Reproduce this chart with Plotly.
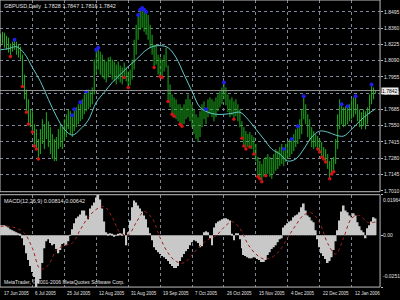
import plotly.graph_objects as go

TITLE = "GBPUSD,Daily  1.7828 1.7847 1.7816 1.7842"
MACD_TITLE = "MACD(12,26,9) 0.00814 0.00642"
COPYRIGHT = "MetaTrader, \u00a9 2001-2006 MetaQuotes Software Corp."

HIGH = [
    1.8314, 1.8330, 1.8322, 1.8297, 1.8281, 1.8231, 1.8248, 1.8264, 1.8248, 1.8223,
    1.8206, 1.8140, 1.7975, 1.7851, 1.7769, 1.7686, 1.7670, 1.7563, 1.7521, 1.7439,
    1.7521, 1.7604, 1.7563, 1.7662, 1.7587, 1.7538, 1.7480, 1.7439, 1.7456, 1.7521,
    1.7563, 1.7538, 1.7604, 1.7645, 1.7686, 1.7670, 1.7637, 1.7686, 1.7703, 1.7728,
    1.7744, 1.7769, 1.7810, 1.7835, 1.7851, 1.7835, 1.7868, 1.8099, 1.8181, 1.8198,
    1.8165, 1.8140, 1.8099, 1.8083, 1.8116, 1.8124, 1.8099, 1.8083, 1.8058, 1.8083,
    1.8050, 1.8033, 1.8074, 1.8033, 1.8000, 1.8016, 1.8099, 1.8264, 1.8388, 1.8470,
    1.8512, 1.8528, 1.8512, 1.8495, 1.8470, 1.8388, 1.8305, 1.8223, 1.8223, 1.8140,
    1.8116, 1.8099, 1.8140, 1.8198, 1.8050, 1.7893, 1.7810, 1.7785, 1.7769, 1.7728,
    1.7728, 1.7703, 1.7728, 1.7769, 1.7810, 1.7769, 1.7728, 1.7686, 1.7645, 1.7620,
    1.7670, 1.7728, 1.7752, 1.7686, 1.7769, 1.7785, 1.7769, 1.7752, 1.7785, 1.7810,
    1.7835, 1.7868, 1.7909, 1.7868, 1.7810, 1.7769, 1.7785, 1.7752, 1.7769, 1.7728,
    1.7686, 1.7587, 1.7538, 1.7505, 1.7480, 1.7497, 1.7472, 1.7456, 1.7398, 1.7291,
    1.7257, 1.7233, 1.7274, 1.7291, 1.7315, 1.7291, 1.7274, 1.7315, 1.7356, 1.7340,
    1.7373, 1.7398, 1.7356, 1.7398, 1.7423, 1.7439, 1.7439, 1.7480, 1.7521, 1.7546,
    1.7604, 1.7686, 1.7794, 1.7728, 1.7645, 1.7604, 1.7538, 1.7505, 1.7480, 1.7464,
    1.7439, 1.7414, 1.7373, 1.7356, 1.7315, 1.7257, 1.7274, 1.7291, 1.7439, 1.7645,
    1.7769, 1.7728, 1.7703, 1.7711, 1.7711, 1.7728, 1.7769, 1.7785, 1.7794, 1.7728,
    1.7686, 1.7662, 1.7686, 1.7670, 1.7703, 1.7810, 1.7893, 1.7868, 1.7847,
]

LOW = [
    1.8206, 1.8231, 1.8198, 1.8181, 1.8157, 1.8124, 1.8165, 1.8181, 1.8140, 1.8116,
    1.8099, 1.7876, 1.7769, 1.7662, 1.7563, 1.7538, 1.7497, 1.7381, 1.7356, 1.7274,
    1.7315, 1.7398, 1.7356, 1.7439, 1.7373, 1.7315, 1.7274, 1.7257, 1.7257, 1.7356,
    1.7373, 1.7356, 1.7423, 1.7456, 1.7521, 1.7480, 1.7456, 1.7505, 1.7538, 1.7563,
    1.7587, 1.7604, 1.7645, 1.7670, 1.7686, 1.7703, 1.7728, 1.7810, 1.7975, 1.8016,
    1.7975, 1.7951, 1.7934, 1.7909, 1.7951, 1.7975, 1.7934, 1.7918, 1.7893, 1.7934,
    1.7909, 1.7893, 1.7951, 1.7918, 1.7868, 1.7885, 1.7934, 1.8016, 1.8140, 1.8264,
    1.8346, 1.8363, 1.8330, 1.8305, 1.8264, 1.8198, 1.8140, 1.8033, 1.8058, 1.7975,
    1.7959, 1.7951, 1.8000, 1.8033, 1.7752, 1.7703, 1.7645, 1.7629, 1.7604, 1.7587,
    1.7563, 1.7546, 1.7563, 1.7604, 1.7620, 1.7587, 1.7538, 1.7480, 1.7439, 1.7414,
    1.7456, 1.7538, 1.7604, 1.7563, 1.7620, 1.7645, 1.7620, 1.7587, 1.7620, 1.7670,
    1.7703, 1.7728, 1.7769, 1.7719, 1.7662, 1.7620, 1.7637, 1.7604, 1.7629, 1.7587,
    1.7538, 1.7447, 1.7381, 1.7356, 1.7373, 1.7373, 1.7356, 1.7315, 1.7257, 1.7126,
    1.7109, 1.7084, 1.7126, 1.7134, 1.7150, 1.7126, 1.7109, 1.7150, 1.7175, 1.7191,
    1.7216, 1.7233, 1.7216, 1.7249, 1.7274, 1.7291, 1.7315, 1.7340, 1.7373, 1.7398,
    1.7439, 1.7480, 1.7604, 1.7563, 1.7456, 1.7423, 1.7373, 1.7356, 1.7373, 1.7356,
    1.7332, 1.7291, 1.7274, 1.7249, 1.7191, 1.7109, 1.7150, 1.7167, 1.7233, 1.7356,
    1.7521, 1.7563, 1.7538, 1.7546, 1.7563, 1.7587, 1.7604, 1.7620, 1.7645, 1.7587,
    1.7538, 1.7521, 1.7546, 1.7521, 1.7563, 1.7645, 1.7728, 1.7769, 1.7816,
]

BLUE_IDX = [7, 36, 37, 40, 43, 48, 49, 69, 70, 71, 72, 73, 103, 112, 142, 146,
            149, 152, 171, 174, 178, 186]
RED_IDX = [5, 11, 13, 14, 16, 17, 18, 19, 62, 64, 77, 80, 81, 84, 86, 87, 90, 91,
           117, 121, 122, 123, 125, 127, 129, 130, 131, 133, 159, 160, 161, 162,
           163, 165, 166, 167]

MA_IDX = [0, 4, 8, 12, 16, 20, 24, 28, 32, 36, 40, 44, 48, 52, 56, 60, 64, 68, 72,
          76, 80, 84, 88, 92, 96, 100, 104, 108, 112, 116, 120, 124, 128, 132, 136,
          140, 144, 148, 152, 156, 160, 164, 168, 172, 176, 180, 184, 188]
MA_VAL = [
    1.8181, 1.8190, 1.8206, 1.8149, 1.8033, 1.7918, 1.7769, 1.7629, 1.7521, 1.7472,
    1.7521, 1.7596, 1.7744, 1.7827, 1.7909, 1.7975, 1.8041, 1.8099, 1.8165, 1.8206,
    1.8215, 1.8198, 1.8116, 1.7975, 1.7835, 1.7703, 1.7662, 1.7645, 1.7645, 1.7653,
    1.7662, 1.7604, 1.7521, 1.7439, 1.7356, 1.7315, 1.7257, 1.7274, 1.7356, 1.7456,
    1.7505, 1.7497, 1.7472, 1.7464, 1.7521, 1.7587, 1.7645, 1.7690,
]

MACD = [
    0.0048, 0.0048, 0.0048, 0.0043, 0.0038, 0.0029, 0.0024, 0.0019, 0.0014, 0.0010,
    0.0005, -0.0014, -0.0048, -0.0087, -0.0120, -0.0149, -0.0178, -0.0202, -0.0251, -0.0231,
    -0.0212, -0.0135, -0.0063, -0.0029, -0.0019, -0.0038, -0.0048, -0.0043, -0.0067, -0.0087,
    -0.0072, -0.0043, -0.0038, -0.0048, -0.0029, 0.0002, 0.0029, 0.0058, 0.0082, 0.0091,
    0.0101, 0.0120, 0.0120, 0.0096, 0.0077, 0.0130, 0.0144, 0.0159, 0.0183, 0.01964,
    0.0173, 0.0130, 0.0067, 0.0014, 0.0005, 0.0010, 0.0005, -0.0005, 0.0002, 0.0005,
    0.0010, 0.0005, 0.0034, -0.0048, 0.0014, 0.0072, 0.0135, 0.0168, 0.0159, 0.0144,
    0.0130, 0.0115, 0.0096, 0.0077, 0.0038, 0.0010, -0.0024, -0.0058, -0.0072, -0.0082,
    -0.0091, -0.0101, -0.0106, -0.0115, -0.0125, -0.0139, -0.0149, -0.0159, -0.0159, -0.0149,
    -0.0125, -0.0106, -0.0091, -0.0077, -0.0067, -0.0048, -0.0034, -0.0024, -0.0029, -0.0038,
    -0.0058, -0.0053, 0.0014, 0.0019, 0.0014, -0.0014, -0.0048, 0.0038, 0.0058, 0.0067,
    0.0072, 0.0077, 0.0082, 0.0082, 0.0077, 0.0072, 0.0005, -0.0024, 0.0010, 0.0010,
    -0.0019, -0.0063, -0.0096, -0.0101, -0.0106, -0.0111, -0.0111, -0.0106, -0.0106, -0.0115,
    -0.0120, -0.0130, -0.0130, -0.0120, -0.0096, -0.0082, -0.0067, -0.0058, -0.0048, -0.0034,
    -0.0019, -0.0014, 0.0038, 0.0048, 0.0058, 0.0067, 0.0072, 0.0087, 0.0096, 0.0101,
    0.0111, 0.0135, 0.0154, 0.0120, 0.0096, 0.0087, 0.0072, 0.0063, 0.0024, -0.0019,
    -0.0058, -0.0087, -0.0101, -0.0115, -0.0135, -0.0125, -0.0106, -0.0072, -0.0029, 0.0024,
    0.0072, 0.0115, 0.0144, 0.0120, 0.0111, 0.0096, 0.0087, 0.0106, 0.0096, 0.0063,
    0.0043, 0.0024, 0.0014, -0.0014, 0.0034, 0.0048, 0.0067, 0.0087, 0.00814,
]

SIGNAL_IDX = MA_IDX
SIGNAL_VAL = [
    0.0043, 0.0043, 0.0034, 0.0010, -0.0063, -0.0164, -0.0144, -0.0072, -0.0050, -0.0038,
    0.0027, 0.0087, 0.0125, 0.0139, 0.0087, 0.0013, 0.0002, 0.0061, 0.0115, 0.0082,
    -0.0012, -0.0086, -0.0127, -0.0134, -0.0095, -0.0052, -0.0021, -0.0003, 0.0038, 0.0066,
    0.0033, -0.0043, -0.0091, -0.0115, -0.0107, -0.0073, -0.0011, 0.0048, 0.0098, 0.0108,
    0.0060, -0.0039, -0.0091, -0.0012, 0.0082, 0.0096, 0.0062, 0.00642,
]

TICK_IDX = [0, 16, 32, 48, 64, 80, 96, 112, 128, 144, 160, 176]
TICK_TEXT = ["17 Jun 2005", "6 Jul 2005", "25 Jul 2005", "12 Aug 2005", "31 Aug 2005",
             "19 Sep 2005", "7 Oct 2005", "26 Oct 2005", "15 Nov 2005", "4 Dec 2005",
             "22 Dec 2005", "12 Jan 2006"]
PRICE_TICKS = [1.8495, 1.8360, 1.8225, 1.8090, 1.7955, 1.7820, 1.7685, 1.7550,
               1.7415, 1.7280, 1.7145, 1.7010]
PRICE_RANGE = [1.7002, 1.8594]
LAST_CLOSE = 1.7842
MACD_MAX = 0.01964
MACD_MIN = -0.0251

N = len(HIGH)
assert len(LOW) == N and len(MACD) == N
IDX = list(range(N))

GREEN = "rgb(30,175,30)"
GRID = "rgb(125,135,150)"
FRAME = "rgb(190,190,190)"
TXT = "rgb(225,225,225)"
FONT = "Liberation Sans"

X_RIGHT = 381 / 400
MAIN_DOM = [1 - 193 / 300, 1.0]
MACD_DOM = [1 - 289 / 300, 1 - 196 / 300]
X_RANGE = [-0.25, 190.25]

# vertical high-low bars as one line trace (segments separated by None)
bar_x, bar_y = [], []
for i, h, l in zip(IDX, HIGH, LOW):
    bar_x += [i, i, None]
    bar_y += [l, h, None]

fig = go.Figure()

fig.add_trace(go.Scatter(x=bar_x, y=bar_y, mode="lines", line=dict(color=GREEN, width=1),
                         connectgaps=False, yaxis="y", xaxis="x"))
fig.add_trace(go.Scatter(x=MA_IDX, y=MA_VAL, mode="lines",
                         line=dict(color="rgb(100,200,200)", width=1, shape="spline"),
                         yaxis="y", xaxis="x"))
fig.add_trace(go.Scatter(x=BLUE_IDX, y=[HIGH[i] for i in BLUE_IDX], mode="markers",
                         marker=dict(color="rgb(30,30,230)", size=4, line=dict(width=0)),
                         yaxis="y", xaxis="x"))
fig.add_trace(go.Scatter(x=RED_IDX, y=[LOW[i] for i in RED_IDX], mode="markers",
                         marker=dict(color="rgb(210,20,20)", size=3.5, line=dict(width=0)),
                         yaxis="y", xaxis="x"))

fig.add_trace(go.Bar(x=IDX, y=MACD, width=0.9, marker=dict(color="rgb(200,200,200)", line=dict(width=0)),
                     yaxis="y2", xaxis="x"))
fig.add_trace(go.Scatter(x=SIGNAL_IDX, y=SIGNAL_VAL, mode="lines",
                         line=dict(color="rgb(160,30,30)", width=1, dash="dot", shape="spline"),
                         yaxis="y2", xaxis="x"))

annotations = []
annotations.append(dict(text=TITLE, xref="paper", yref="paper", x=0.005, y=1.0, xanchor="left", yanchor="top",
                        showarrow=False, font=dict(family=FONT, size=5.5, color=TXT), yshift=-1))
annotations.append(dict(text=MACD_TITLE, xref="paper", yref="paper", x=0.005, y=MACD_DOM[1], xanchor="left",
                        yanchor="top", showarrow=False, font=dict(family=FONT, size=5.5, color=TXT), yshift=-1))
annotations.append(dict(text=COPYRIGHT, xref="paper", yref="paper", x=0.005, y=MACD_DOM[0], xanchor="left",
                        yanchor="bottom", showarrow=False, font=dict(family=FONT, size=5, color=TXT)))
for ti, tt in zip(TICK_IDX, TICK_TEXT):
    annotations.append(dict(text=tt, xref="x", yref="paper", x=ti, y=0, xanchor="left", yanchor="bottom",
                            showarrow=False, xshift=1, font=dict(family=FONT, size=4.5, color=TXT)))
annotations.append(dict(text=f"{LAST_CLOSE:.4f}", xref="paper", yref="y", x=X_RIGHT, y=LAST_CLOSE,
                        xanchor="left", yanchor="middle", showarrow=False, bgcolor="rgb(235,235,235)",
                        borderpad=0, xshift=1, font=dict(family=FONT, size=5, color="black")))
annotations.append(dict(text=f"{MACD_MAX:.5f}", xref="paper", yref="y2", x=X_RIGHT, y=MACD_MAX,
                        xanchor="left", yanchor="top", showarrow=False, xshift=1,
                        font=dict(family=FONT, size=5, color=TXT)))
annotations.append(dict(text="0.00", xref="paper", yref="y2", x=X_RIGHT, y=0,
                        xanchor="left", yanchor="middle", showarrow=False, xshift=1,
                        font=dict(family=FONT, size=5, color=TXT)))
annotations.append(dict(text=f"{MACD_MIN:.4f}", xref="paper", yref="y2", x=X_RIGHT, y=MACD_MIN,
                        xanchor="left", yanchor="bottom", showarrow=False, xshift=1, yshift=6,
                        font=dict(family=FONT, size=5, color=TXT)))

shapes = [
    dict(type="line", xref="paper", yref="y", x0=0, x1=X_RIGHT, y0=LAST_CLOSE, y1=LAST_CLOSE,
         line=dict(color="rgb(150,150,150)", width=1)),
    dict(type="rect", xref="paper", yref="paper", x0=0, x1=X_RIGHT, y0=MAIN_DOM[0], y1=MAIN_DOM[1],
         line=dict(color=FRAME, width=1)),
    dict(type="rect", xref="paper", yref="paper", x0=0, x1=X_RIGHT, y0=MACD_DOM[0], y1=MACD_DOM[1],
         line=dict(color=FRAME, width=1)),
]

fig.update_layout(
    width=400, height=300, margin=dict(l=0, r=0, t=0, b=0),
    paper_bgcolor="black", plot_bgcolor="black", showlegend=False,
    barmode="overlay",
    xaxis=dict(domain=[0, X_RIGHT], range=X_RANGE, anchor="y2", tickvals=TICK_IDX,
               showticklabels=False, showgrid=True, gridcolor=GRID, griddash="dot", gridwidth=1,
               zeroline=False, showline=False, ticks=""),
    yaxis=dict(domain=MAIN_DOM, range=PRICE_RANGE, side="right", anchor="x", tickvals=PRICE_TICKS,
               ticktext=[f"{v:.4f}" for v in PRICE_TICKS], tickfont=dict(family=FONT, size=5, color=TXT),
               showgrid=True, gridcolor=GRID, griddash="dot", gridwidth=1, ticks="outside", ticklen=2,
               tickcolor=FRAME, zeroline=False, showline=False),
    yaxis2=dict(domain=MACD_DOM, range=[MACD_MIN, MACD_MAX], side="right", anchor="x",
                tickvals=[MACD_MAX, 0, MACD_MIN], showticklabels=False, ticks="outside", ticklen=2,
                tickcolor=FRAME, showgrid=False, zeroline=False, showline=False),
    annotations=annotations, shapes=shapes,
)

fig.write_html("out.html")
